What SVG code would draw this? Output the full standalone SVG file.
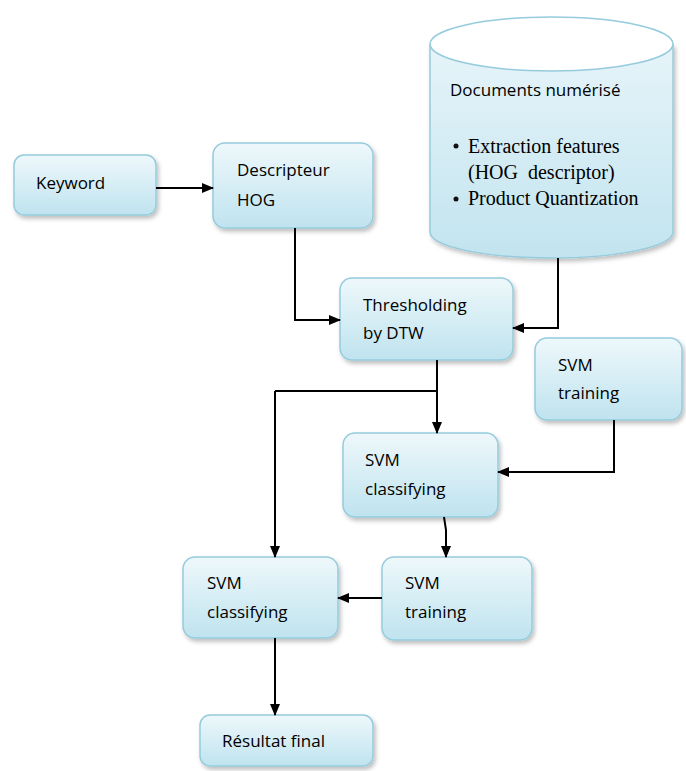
<svg xmlns="http://www.w3.org/2000/svg" width="686" height="771" viewBox="0 0 686 771">
<defs>
<linearGradient id="g" x1="0" y1="0" x2="0" y2="1">
<stop offset="0" stop-color="#eef8fb"/>
<stop offset="1" stop-color="#bfe3ef"/>
</linearGradient>
<linearGradient id="gc" x1="0" y1="0" x2="0" y2="1">
<stop offset="0" stop-color="#e6f4f9"/>
<stop offset="1" stop-color="#c2e4ef"/>
</linearGradient>
<filter id="sh" x="-10%" y="-10%" width="125%" height="130%">
<feDropShadow dx="2" dy="3" stdDeviation="2" flood-color="#000" flood-opacity="0.25"/>
</filter>
<marker id="ar" markerWidth="12" markerHeight="10" refX="11" refY="5" orient="auto" markerUnits="userSpaceOnUse">
<path d="M0,0 L12,5 L0,10 z" fill="#000"/>
</marker>
</defs>
<style>
.box{fill:url(#g);stroke:#95cbdd;stroke-width:1.5;filter:url(#sh)}
.t{font-family:"Open Sans","Noto Sans",sans-serif;font-size:17px;fill:#000}
.s{font-family:"Liberation Serif",serif;font-size:20px;fill:#000}
.c{fill:none;stroke:#000;stroke-width:2;marker-end:url(#ar)}
.cn{fill:none;stroke:#000;stroke-width:2}
</style>
<g id="keyword">
<rect class="box" x="14" y="155" width="142" height="60" rx="10"/>
<text class="t" x="36" y="189">Keyword</text>
</g>
<g id="descripteur">
<rect class="box" x="213" y="143" width="160" height="85" rx="12"/>
<text class="t" x="237" y="176">Descripteur</text>
<text class="t" x="237" y="206">HOG</text>
</g>
<g id="documents">
<path d="M430,44 L430,232 A121.5,26 0 0 0 673,232 L673,44" fill="url(#gc)" stroke="#95cbdd" stroke-width="1.5" filter="url(#sh)"/>
<ellipse cx="551.5" cy="44" rx="121.5" ry="27" fill="#ffffff" stroke="#95cbdd" stroke-width="1.5"/>
<text class="t" x="450" y="96">Documents numérisé</text>
<circle cx="456" cy="146" r="2.5" fill="#111"/>
<text class="s" x="468" y="153">Extraction features</text>
<text class="s" x="468" y="179">(HOG&#160; descriptor)</text>
<circle cx="456" cy="199" r="2.5" fill="#111"/>
<text class="s" x="468" y="205">Product Quantization</text>
</g>
<g id="thresholding">
<rect class="box" x="340" y="278" width="173" height="82" rx="12"/>
<text class="t" x="363" y="311">Thresholding</text>
<text class="t" x="363" y="339">by DTW</text>
</g>
<g id="svm-training-1">
<rect class="box" x="535" y="338" width="147" height="82" rx="12"/>
<text class="t" x="558" y="371">SVM</text>
<text class="t" x="558" y="399">training</text>
</g>
<g id="svm-classifying-1">
<rect class="box" x="343" y="433" width="155" height="84" rx="12"/>
<text class="t" x="365" y="466">SVM</text>
<text class="t" x="365" y="495">classifying</text>
</g>
<g id="svm-classifying-2">
<rect class="box" x="183" y="557" width="155" height="81" rx="12"/>
<text class="t" x="207" y="589">SVM</text>
<text class="t" x="207" y="618">classifying</text>
</g>
<g id="svm-training-2">
<rect class="box" x="382" y="557" width="150" height="83" rx="12"/>
<text class="t" x="405" y="589">SVM</text>
<text class="t" x="405" y="618">training</text>
</g>
<g id="resultat">
<rect class="box" x="200" y="715" width="173" height="51" rx="10"/>
<text class="t" x="222" y="747">Résultat final</text>
</g>
<g id="connectors">
<path class="c" d="M156,188 L213,188"/>
<path class="c" d="M295,228 L295,320 L340,320"/>
<path class="c" d="M558,258 L558,328 L513,328"/>
<path class="c" d="M437,360 L437,433"/>
<path class="cn" d="M437,391 L275,391"/>
<path class="c" d="M275,391 L275,557"/>
<path class="c" d="M614,420 L614,472 L498,472"/>
<path class="c" d="M444,517 L446,530 L446,557"/>
<path class="c" d="M382,598 L338,598"/>
<path class="c" d="M275,638 L275,715"/>
</g>
</svg>
